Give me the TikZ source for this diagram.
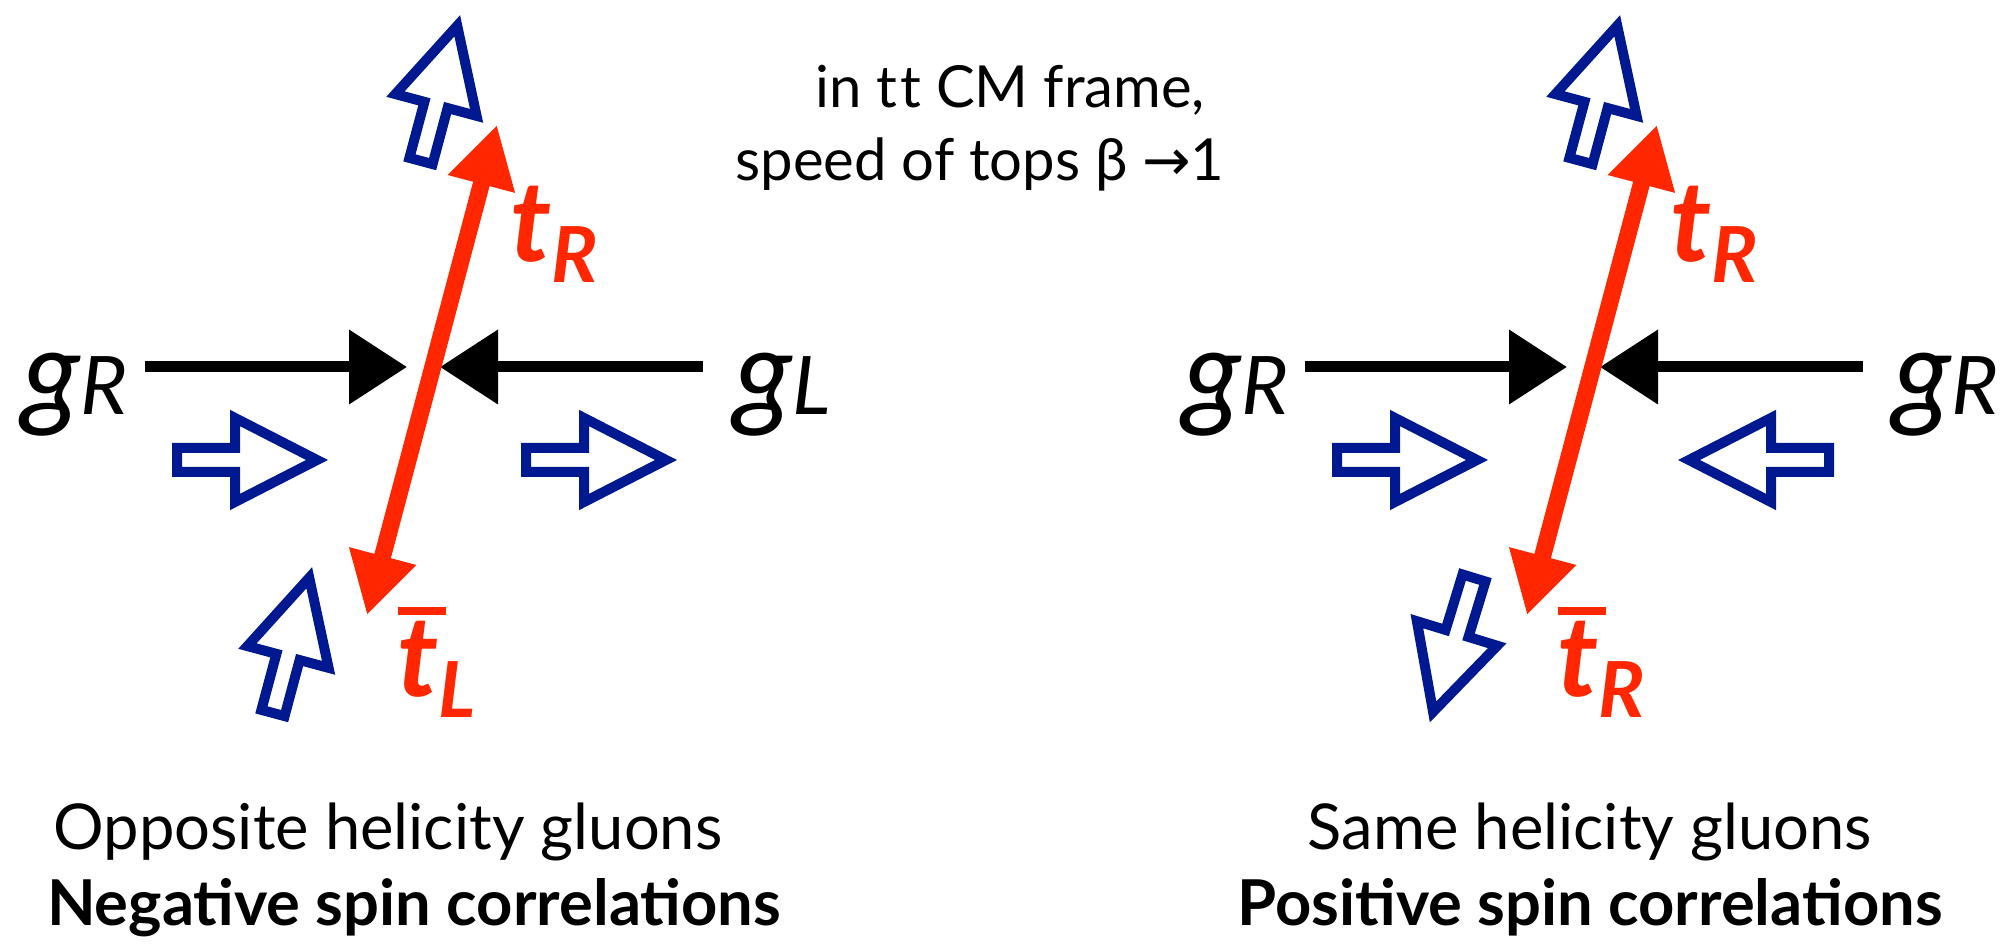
\documentclass[tikz,border=0pt]{standalone}
\usepackage{fontspec}
\setmainfont{Lato}
\newfontfamily\arrowfont{DejaVu Sans}
\usetikzlibrary{arrows.meta}
\definecolor{spinblue}{RGB}{0,25,145}
\definecolor{topred}{RGB}{255,38,0}
\newcommand{\topsub}[1]{\raisebox{-0.18em}{\fontsize{22}{22}\selectfont #1}}
\newcommand{\gsub}[1]{{\fontsize{23}{23}\selectfont #1}}
\newcommand{\tbar}{\rlap{\rule[0.73em]{0.43em}{0.07em}}t}
\tikzset{
  spin/.pic={
    \draw[spinblue, line width=0.1cm] (0,-0.12) -- (0.58,-0.12) -- (0.58,-0.42)
      -- (1.40,0) -- (0.58,0.42) -- (0.58,0.12) -- (0,0.12) -- cycle;
  }
}

\begin{document}
\begin{tikzpicture}[
    gluon/.style={line width=0.11cm, -{Triangle[length=0.58cm, width=0.72cm]}},
    topline/.style={topred, line width=0.17cm,
      {Triangle[length=0.61cm, width=0.65cm]}-{Triangle[length=0.61cm, width=0.65cm]}},
    glabel/.style={anchor=base west, inner sep=0pt, font=\fontsize{34}{34}\selectfont\itshape},
    tlabel/.style={anchor=base west, inner sep=0pt, topred, font=\fontsize{32}{32}\selectfont\bfseries\itshape},
    caption/.style={anchor=base, inner sep=0pt, font=\fontsize{18}{21}\selectfont},
    note/.style={anchor=base, inner sep=0pt, font=\fontsize{16.5}{20}\selectfont}
  ]
  \useasboundingbox (0,0) rectangle (20.08,9.44);

  % frame note
  \node[note] (frame) at (10.10,8.36) {in t\kern0.06em t CM frame,};
  \node[note] (speed) at (9.80,7.63) {speed of tops β {\arrowfont →}1};

  % opposite helicity
  \node[glabel] (gR1) at (0.22,5.29) {g\gsub{R}};
  \node[glabel] (gL1) at (7.34,5.29) {g\gsub{L}};
  \coordinate (gin1) at (1.45,5.77);
  \coordinate (gv1) at (4.07,5.77);
  \coordinate (gin2) at (7.03,5.77);
  \coordinate (gv2) at (4.40,5.77);
  \draw[gluon] (gin1) -- (gv1);
  \draw[gluon] (gin2) -- (gv2);
  \coordinate (top1) at (4.97,8.19);
  \coordinate (atop1) at (3.67,3.29);
  \draw[topline] (atop1) -- (top1);
  \node[tlabel] (tR1) at (5.10,6.82) {t\topsub{R}};
  \node[tlabel] (tbL1) at (3.97,2.47) {\tbar\topsub{L}};
  \pic[rotate=75] at (4.21,7.83) {spin};
  \pic at (1.77,4.84) {spin};
  \pic at (5.26,4.84) {spin};
  \pic[rotate=75] at (2.73,2.31) {spin};
  \node[caption] (opp) at (3.88,0.94) {Opposite helicity gluons};
  \node[caption, font=\fontsize{18}{21}\selectfont\bfseries] (neg) at (4.14,0.18)
    {Negative spin correlations};

  % same helicity
  \node[glabel] (gR2) at (11.83,5.29) {g\gsub{R}};
  \node[glabel] (gR3) at (18.93,5.29) {g\gsub{R}};
  \coordinate (gin3) at (13.05,5.77);
  \coordinate (gv3) at (15.67,5.77);
  \coordinate (gin4) at (18.63,5.77);
  \coordinate (gv4) at (16.00,5.77);
  \draw[gluon] (gin3) -- (gv3);
  \draw[gluon] (gin4) -- (gv4);
  \coordinate (top2) at (16.57,8.19);
  \coordinate (atop2) at (15.27,3.29);
  \draw[topline] (atop2) -- (top2);
  \node[tlabel] (tR2) at (16.70,6.82) {t\topsub{R}};
  \node[tlabel] (tbR2) at (15.57,2.47) {\tbar\topsub{R}};
  \pic[rotate=75] at (15.81,7.83) {spin};
  \pic at (13.37,4.84) {spin};
  \pic[rotate=180] at (18.29,4.84) {spin};
  \pic[rotate=253] at (14.74,3.66) {spin};
  \node[caption] (same) at (15.90,0.94) {Same helicity gluons};
  \node[caption, font=\fontsize{18}{21}\selectfont\bfseries] (pos) at (15.90,0.18)
    {Positive spin correlations};
\end{tikzpicture}
\end{document}
